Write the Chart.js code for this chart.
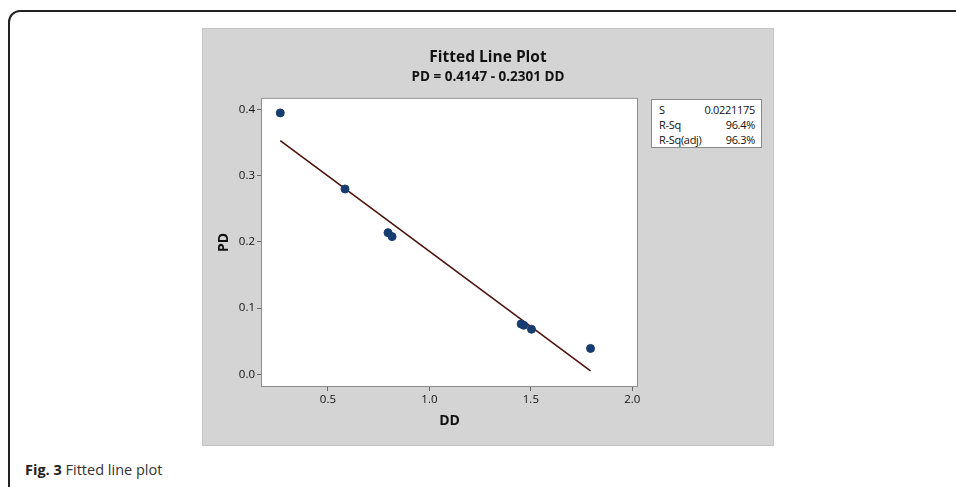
<!DOCTYPE html>
<html>
<head>
<meta charset="utf-8">
<script src="https://cdn.jsdelivr.net/npm/chart.js@4.4.1/dist/chart.umd.min.js"></script>
<style>
    html, body { margin: 0; padding: 0; background: #fff; }
    body { width: 956px; height: 487px; position: relative; overflow: hidden; font-family: "Open Sans", "Noto Sans", sans-serif; }
    .frame { position: absolute; left: 8px; top: 10px; width: 1000px; height: 600px; border: 2px solid #222; border-radius: 12px; }
    .panel { position: absolute; left: 202px; top: 28px; width: 570px; height: 416px; background: #d4d4d4; border: 1px solid #c4c4c4; }
    .chart-box { position: absolute; left: 202px; top: 28px; width: 572px; height: 418px; }
    .stats { position: absolute; left: 651px; top: 99px; width: 109px; height: 47px; background: #fff; border: 1px solid #8a8a8a;
             font-size: 11px; letter-spacing: -0.3px; color: #111; padding: 0; }
    .stats div { position: absolute; left: 7px; right: 6px; height: 15px; line-height: 15px; }
    .stats span { float: right; }
    .caption { position: absolute; left: 25px; top: 460px; font-size: 14.5px; color: #333; }
    .caption b { color: #222; }
</style>
</head>
<body>
<div class="frame"></div>
<div class="panel"></div>
<div class="chart-box"><canvas id="fitChart"></canvas></div>
<div class="stats">
    <div style="top:2px">S<span>0.0221175</span></div>
    <div style="top:17px">R-Sq<span>96.4%</span></div>
    <div style="top:32px">R-Sq(adj)<span>96.3%</span></div>
</div>
<div class="caption"><b>Fig. 3</b> Fitted line plot</div>
<script>
// 관측값 (DD, PD)
const ddValues = [0.265, 0.584, 0.796, 0.816, 1.452, 1.465, 1.503, 1.794];
const pdValues = [0.395, 0.280, 0.214, 0.208, 0.076, 0.074, 0.068, 0.039];

// 회귀선 양 끝점
const fitX = [0.265, 1.794];
const fitY = [0.353, 0.005];

const xTicks = [0.5, 1.0, 1.5, 2.0];
const yTicks = [0.0, 0.1, 0.2, 0.3, 0.4];

const titleText = 'Fitted Line Plot';
const subtitleText = 'PD = 0.4147 - 0.2301 DD';

// 플롯 영역 흰 배경 + 테두리
const plotBg = {
    id: 'plotBg',
    beforeDraw(chart) {
        const a = chart.chartArea;
        const ctx = chart.ctx;
        ctx.save();
        ctx.fillStyle = '#ffffff';
        ctx.fillRect(a.left, a.top, a.right - a.left, a.bottom - a.top);
        ctx.restore();
    },
    afterDraw(chart) {
        const a = chart.chartArea;
        const ctx = chart.ctx;
        ctx.save();
        ctx.strokeStyle = '#8c8c8c';
        ctx.lineWidth = 1;
        ctx.strokeRect(a.left + 0.5, a.top + 0.5, a.right - a.left - 1, a.bottom - a.top - 1);
        ctx.restore();
    }
};

const fitPoints = fitX.map((x, i) => ({ x: x, y: fitY[i] }));
const obsPoints = ddValues.map((x, i) => ({ x: x, y: pdValues[i] }));

const ctx = document.getElementById('fitChart');
new Chart(ctx, {
    type: 'scatter',
    data: {
        datasets: [{
            type: 'line',
            data: fitPoints,
            borderColor: '#4e130c',
            borderWidth: 1.6,
            pointRadius: 0,
            fill: false,
            order: 2
        }, {
            data: obsPoints,
            backgroundColor: '#173d70',
            borderColor: '#173d70',
            pointRadius: 4,
            order: 1
        }]
    },
    options: {
        responsive: true,
        maintainAspectRatio: false,
        animation: false,
        layout: { padding: { top: 2, left: 0, right: 0, bottom: 0 } },
        plugins: {
            legend: { display: false },
            tooltip: { enabled: false },
            title: {
                display: true,
                text: titleText,
                color: '#111',
                font: { family: 'Open Sans', size: 15.5, weight: 'bold' },
                padding: { top: 18, bottom: 2 }
            },
            subtitle: {
                display: true,
                text: subtitleText,
                color: '#111',
                font: { family: 'Open Sans', size: 13.5, weight: 'bold' },
                padding: { top: 0, bottom: 13 }
            }
        },
        scales: {
            x: {
                type: 'linear',
                min: 0.17,
                max: 2.028,
                afterFit(scale) { scale.height = 59; },
                afterBuildTicks(scale) { scale.ticks = xTicks.map(v => ({ value: v })); },
                grid: { drawOnChartArea: false, drawTicks: true, tickLength: 4, color: '#666' },
                border: { display: false },
                ticks: {
                    padding: 2,
                    color: '#111',
                    font: { family: 'Open Sans', size: 11.5 },
                    callback: v => v.toFixed(1)
                },
                title: {
                    display: true,
                    text: 'DD',
                    color: '#111',
                    font: { family: 'Open Sans', size: 14, weight: 'bold' },
                    padding: { top: 17, bottom: 17 }
                }
            },
            y: {
                type: 'linear',
                min: -0.0193,
                max: 0.4178,
                afterFit(scale) { scale.width = 59; },
                afterBuildTicks(scale) { scale.ticks = yTicks.map(v => ({ value: v })); },
                grid: { drawOnChartArea: false, drawTicks: true, tickLength: 4, color: '#666' },
                border: { display: false },
                ticks: {
                    padding: 2,
                    color: '#111',
                    font: { family: 'Open Sans', size: 11.5 },
                    callback: v => v.toFixed(1)
                },
                title: {
                    display: true,
                    text: 'PD',
                    color: '#111',
                    font: { family: 'Open Sans', size: 14, weight: 'bold' },
                    padding: { top: 14, bottom: 14 }
                }
            },
            // 오른쪽 통계 상자 자리
            yRight: {
                type: 'linear',
                position: 'right',
                display: true,
                afterFit(scale) { scale.width = 136; },
                grid: { display: false },
                border: { display: false },
                ticks: { display: false },
                title: { display: false }
            }
        }
    },
    plugins: [plotBg]
});
</script>
</body>
</html>
